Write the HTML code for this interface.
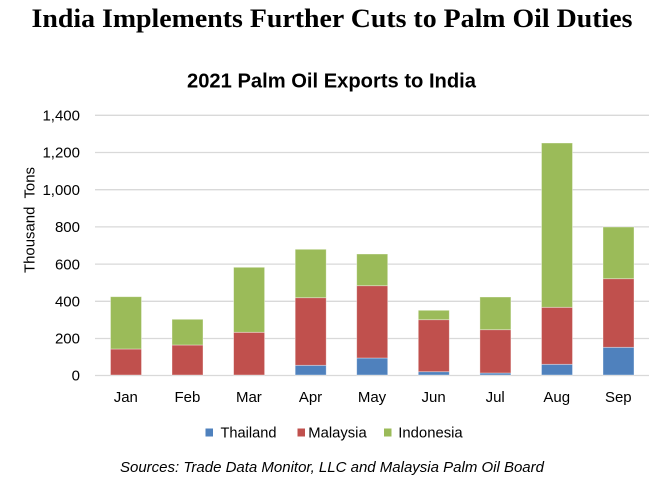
<!DOCTYPE html>
<html><head><meta charset="utf-8"><style>
html,body{margin:0;padding:0;background:#fff;}
svg{display:block;}
</style></head><body>
<svg width="663" height="493" viewBox="0 0 663 493" xmlns="http://www.w3.org/2000/svg">
<rect width="663" height="493" fill="#fff"/>
<text x="332" y="27" text-anchor="middle" font-family="Liberation Serif, serif" font-weight="bold" font-size="26" fill="#000" textLength="601" lengthAdjust="spacingAndGlyphs">India Implements Further Cuts to Palm Oil Duties</text>
<text x="331.5" y="87.5" text-anchor="middle" font-family="Liberation Sans, sans-serif" font-weight="bold" font-size="20" fill="#000" textLength="289" lengthAdjust="spacingAndGlyphs">2021 Palm Oil Exports to India</text>
<g stroke="#d9d9d9" stroke-width="1.3">
<line x1="95" x2="649" y1="115.3" y2="115.3"/>
<line x1="95" x2="649" y1="152.5" y2="152.5"/>
<line x1="95" x2="649" y1="189.7" y2="189.7"/>
<line x1="95" x2="649" y1="226.9" y2="226.9"/>
<line x1="95" x2="649" y1="264.1" y2="264.1"/>
<line x1="95" x2="649" y1="301.3" y2="301.3"/>
<line x1="95" x2="649" y1="338.5" y2="338.5"/>
<line x1="95" x2="649" y1="375.5" y2="375.5"/>
</g>
<g font-family="Liberation Sans, sans-serif" font-size="15" fill="#000" text-anchor="end">
<text x="80" y="120.5">1,400</text>
<text x="80" y="157.7">1,200</text>
<text x="80" y="194.9">1,000</text>
<text x="80" y="232.1">800</text>
<text x="80" y="269.3">600</text>
<text x="80" y="306.5">400</text>
<text x="80" y="343.7">200</text>
<text x="80" y="380.7">0</text>
</g>
<text transform="translate(34.5,220) rotate(-90)" text-anchor="middle" font-family="Liberation Sans, sans-serif" font-size="15" fill="#000" textLength="106" lengthAdjust="spacingAndGlyphs" xml:space="preserve">Thousand  Tons</text>
<g stroke="#ffffff" stroke-opacity="0.45" stroke-width="0.8">
<!-- Jan -->
<rect x="110.5" y="349" width="31" height="26" fill="#C0504D"/>
<rect x="110.5" y="296.7" width="31" height="52.3" fill="#9BBB59"/>
<!-- Feb -->
<rect x="172" y="345" width="31" height="30" fill="#C0504D"/>
<rect x="172" y="319.3" width="31" height="25.7" fill="#9BBB59"/>
<!-- Mar -->
<rect x="233.6" y="332.3" width="31" height="42.7" fill="#C0504D"/>
<rect x="233.6" y="267.3" width="31" height="65" fill="#9BBB59"/>
<!-- Apr -->
<rect x="295.2" y="365.3" width="31" height="9.7" fill="#4F81BD"/>
<rect x="295.2" y="297.7" width="31" height="67.6" fill="#C0504D"/>
<rect x="295.2" y="249.3" width="31" height="48.4" fill="#9BBB59"/>
<!-- May -->
<rect x="356.7" y="358" width="31" height="17" fill="#4F81BD"/>
<rect x="356.7" y="285.7" width="31" height="72.3" fill="#C0504D"/>
<rect x="356.7" y="254" width="31" height="31.7" fill="#9BBB59"/>
<!-- Jun -->
<rect x="418.3" y="371.7" width="31" height="3.3" fill="#4F81BD"/>
<rect x="418.3" y="319.7" width="31" height="52" fill="#C0504D"/>
<rect x="418.3" y="310.3" width="31" height="9.4" fill="#9BBB59"/>
<!-- Jul -->
<rect x="479.9" y="373" width="31" height="2" fill="#4F81BD"/>
<rect x="479.9" y="329.7" width="31" height="43.3" fill="#C0504D"/>
<rect x="479.9" y="297" width="31" height="32.7" fill="#9BBB59"/>
<!-- Aug -->
<rect x="541.5" y="364.3" width="31" height="10.7" fill="#4F81BD"/>
<rect x="541.5" y="307.3" width="31" height="57" fill="#C0504D"/>
<rect x="541.5" y="143" width="31" height="164.3" fill="#9BBB59"/>
<!-- Sep -->
<rect x="603" y="347.3" width="31" height="27.7" fill="#4F81BD"/>
<rect x="603" y="278.7" width="31" height="68.6" fill="#C0504D"/>
<rect x="603" y="227" width="31" height="51.7" fill="#9BBB59"/>
</g>
<g font-family="Liberation Sans, sans-serif" font-size="15" fill="#000" text-anchor="middle">
<text x="125.8" y="402">Jan</text>
<text x="187.4" y="402">Feb</text>
<text x="248.9" y="402">Mar</text>
<text x="310.5" y="402">Apr</text>
<text x="372" y="402">May</text>
<text x="433.6" y="402">Jun</text>
<text x="495.2" y="402">Jul</text>
<text x="556.7" y="402">Aug</text>
<text x="618.3" y="402">Sep</text>
</g>
<rect x="205.5" y="428.5" width="7.5" height="8" fill="#4F81BD"/>
<rect x="297.5" y="428.5" width="7.5" height="8" fill="#C0504D"/>
<rect x="384" y="428.5" width="7.5" height="8" fill="#9BBB59"/>
<g font-family="Liberation Sans, sans-serif" font-size="15" fill="#000">
<text x="220.5" y="437.5" textLength="56" lengthAdjust="spacingAndGlyphs">Thailand</text>
<text x="308.3" y="437.5" textLength="58.4" lengthAdjust="spacingAndGlyphs">Malaysia</text>
<text x="398.3" y="437.5" textLength="64.4" lengthAdjust="spacingAndGlyphs">Indonesia</text>
</g>
<text x="120" y="472" font-family="Liberation Sans, sans-serif" font-style="italic" font-size="15" fill="#000" textLength="424" lengthAdjust="spacingAndGlyphs">Sources: Trade Data Monitor, LLC and Malaysia Palm Oil Board</text>
</svg>
</body></html>
